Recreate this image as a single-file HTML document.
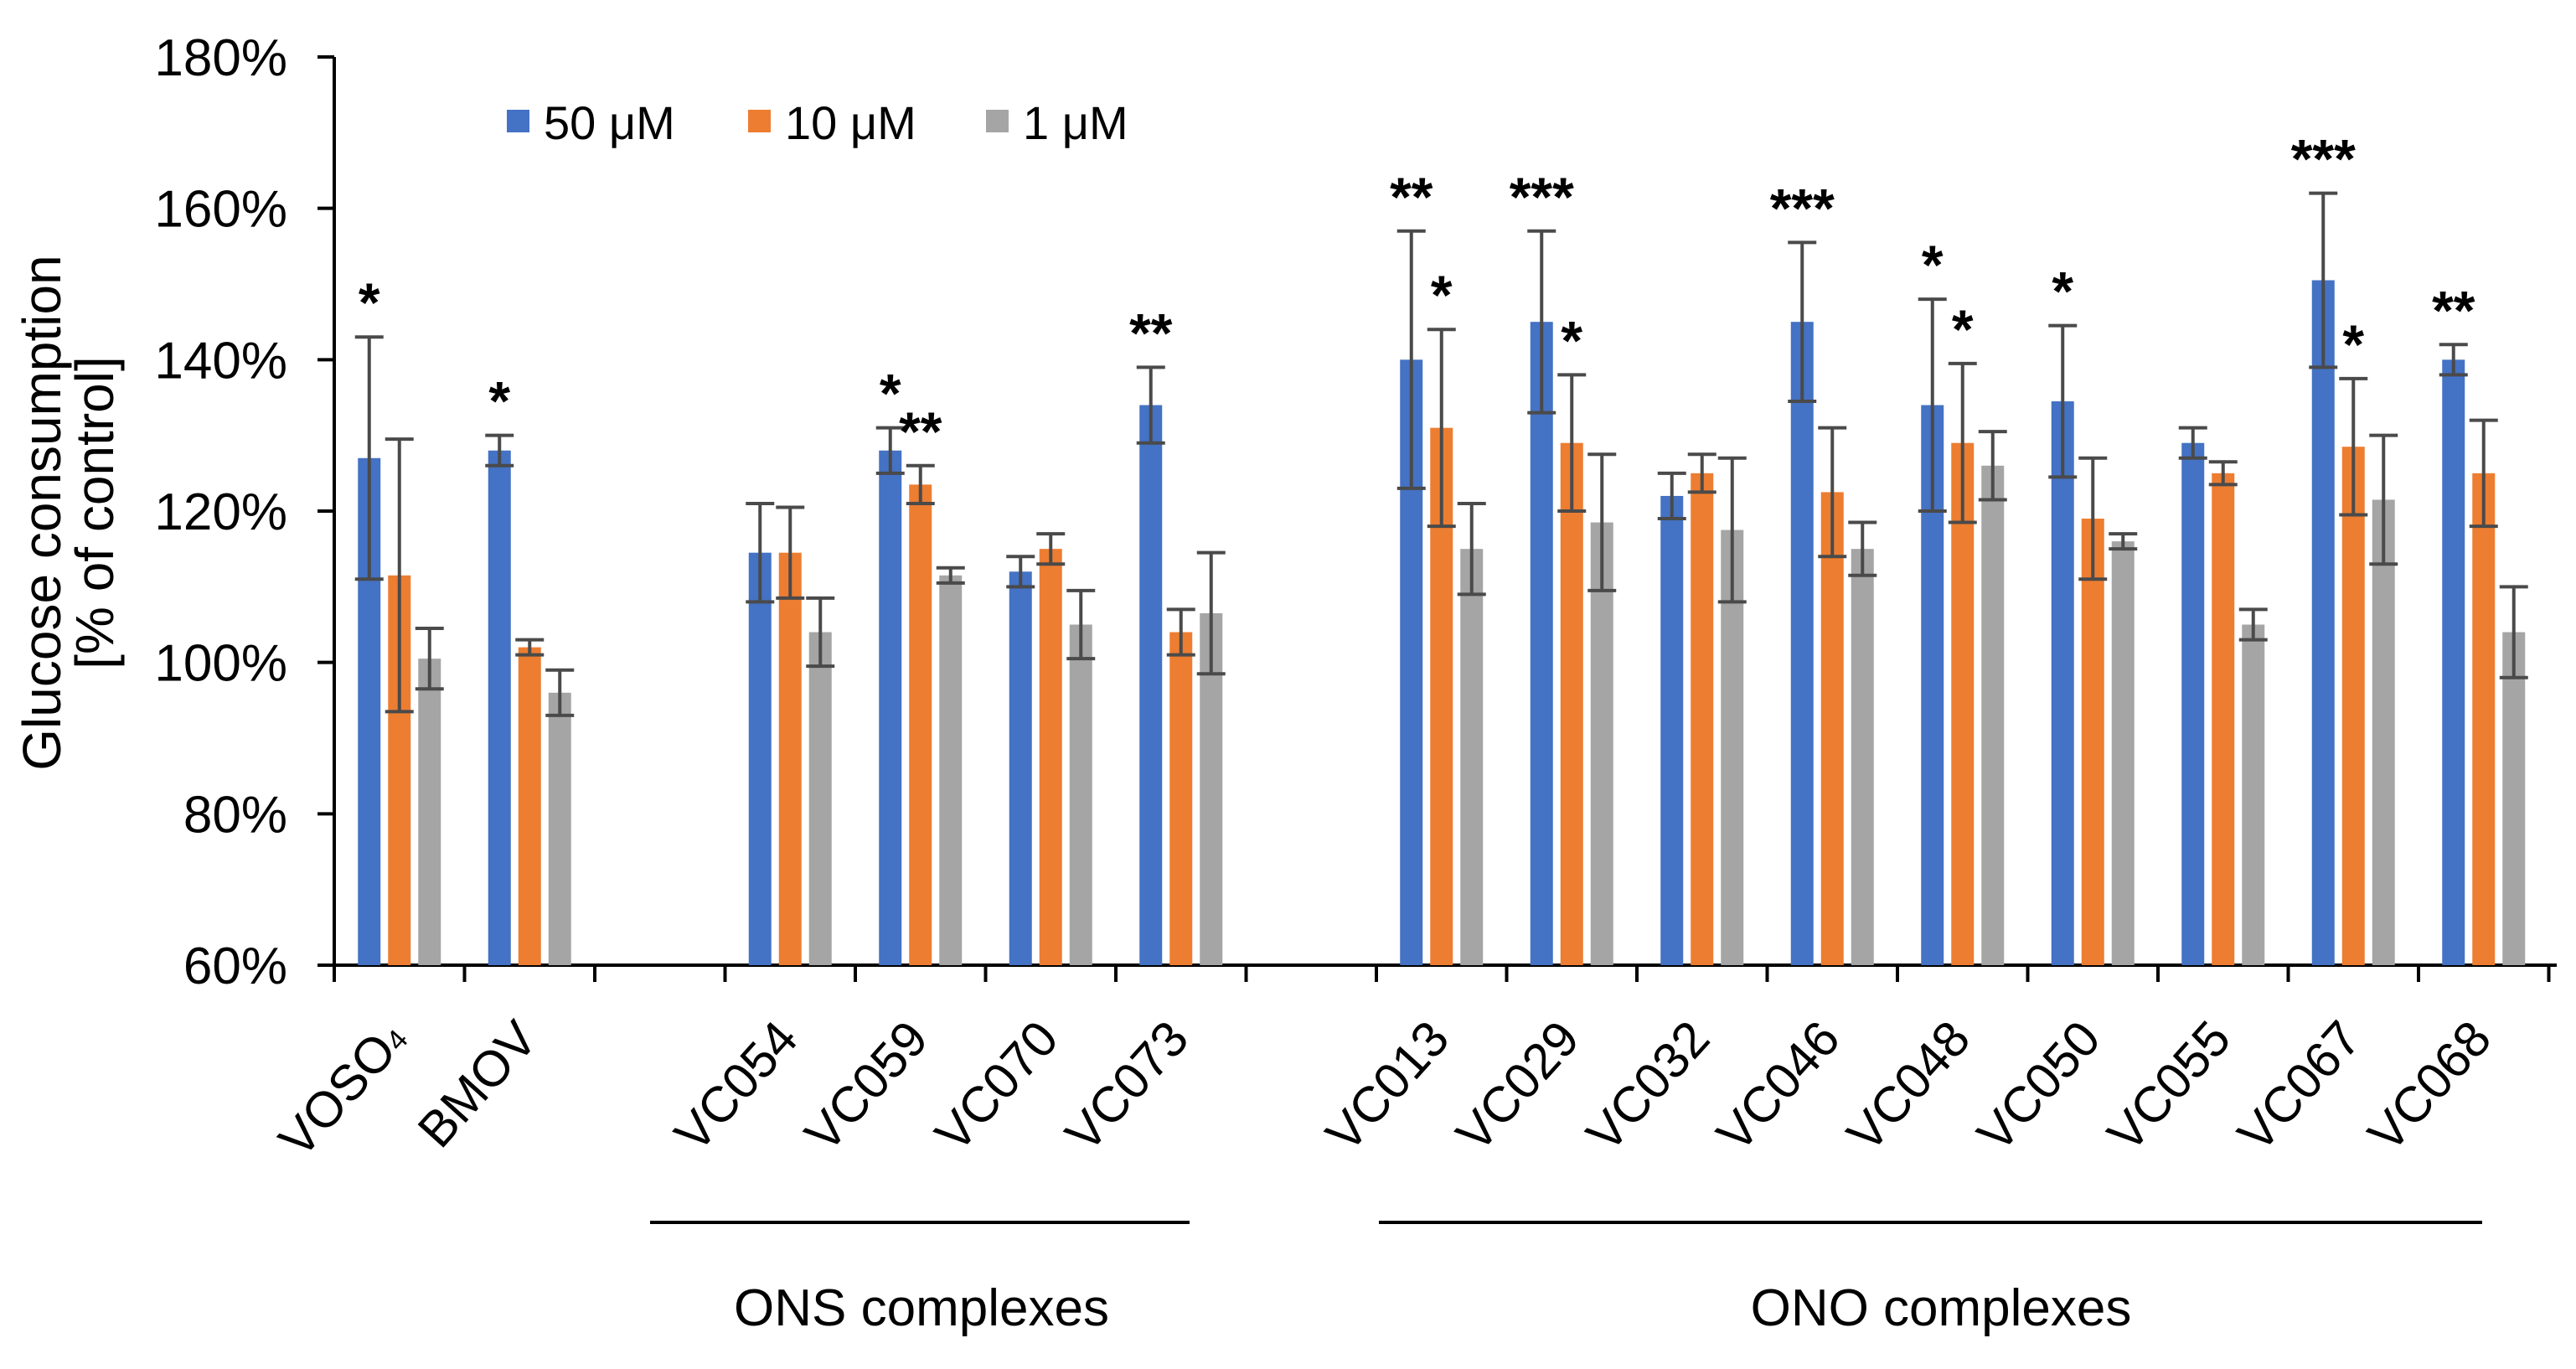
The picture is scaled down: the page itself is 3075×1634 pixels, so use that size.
<!DOCTYPE html>
<html><head><meta charset="utf-8"><style>
html,body{margin:0;padding:0;background:#fff}
svg{display:block}
text{font-family:"Liberation Sans",Arial,sans-serif;fill:#000}
</style></head><body>
<svg id="chart" width="3075" height="1634" viewBox="0 0 3075 1634" xmlns="http://www.w3.org/2000/svg">
<g id="axes"></g>
<g id="bars"></g>
<g id="labels"></g>
<g id="legend"></g>
<text font-size="64" text-anchor="middle" transform="translate(72,612) rotate(-90)">Glucose consumption</text>
<text font-size="64" text-anchor="middle" transform="translate(135,612) rotate(-90)">[% of control]</text>
<line x1="776" y1="1459" x2="1420" y2="1459" stroke="#000" stroke-width="4"/>
<line x1="1646" y1="1459" x2="2963" y2="1459" stroke="#000" stroke-width="4"/>
<text font-size="62" text-anchor="middle" x="1100" y="1582">ONS complexes</text>
<text font-size="62" text-anchor="middle" x="2317" y="1582">ONO complexes</text>
</svg>
<script>
const categories = ["VOSO4","BMOV","","VC054","VC059","VC070","VC073","","VC013","VC029","VC032","VC046","VC048","VC050","VC055","VC067","VC068"];
const seriesNames = ["50 μM","10 μM","1 μM"];
const s50 = [127,128,null,114.5,128,112,134,null,140,145,122,145,134,134.5,129,150.5,140];
const s10 = [111.5,102,null,114.5,123.5,115,104,null,131,129,125,122.5,129,119,125,128.5,125];
const s1  = [100.5,96,null,104,111.5,105,106.5,null,115,118.5,117.5,115,126,116,105,121.5,104];
const e50 = [16,2,null,6.5,3,2,5,null,17,12,3,10.5,14,10,2,11.5,2];
const e10 = [18,1,null,6,2.5,2,3,null,13,9,2.5,8.5,10.5,8,1.5,9,7];
const e1  = [4,3,null,4.5,1,4.5,8,null,6,9,9.5,3.5,4.5,1,2,8.5,6];
const yTicks = [60,80,100,120,140,160,180];
const starCats = [0,1,4,4,6,8,8,9,9,11,12,12,13,15,15,16];
const starSeries = [0,0,0,1,0,0,1,0,1,0,0,1,0,0,1,0];
const starText = ["*","*","*","**","**","**","*","***","*","***","*","*","*","***","*","**"];

const NS="http://www.w3.org/2000/svg";
const X0=399, SLOT=155.5, Y60=1152, Y180=68;
const colors=["#4472C4","#ED7D31","#A5A5A5"];
const offs=[-36,0,36], BW=27;
const vals=[s50,s10,s1], errs=[e50,e10,e1];
function y(v){return Y60-(v-60)*(Y60-Y180)/120;}
function cx(i){return X0+(i+0.5)*SLOT;}
function mk(tag,attrs,parent){const e=document.createElementNS(NS,tag);for(const k in attrs)e.setAttribute(k,attrs[k]);parent.appendChild(e);return e;}
const axes=document.getElementById('axes');
let l=mk('line',{x1:X0,y1:Y180,x2:X0,y2:Y60,stroke:'#000','stroke-width':4},axes);


l=mk('line',{x1:X0,y1:Y60,x2:3052,y2:Y60,stroke:'#000','stroke-width':4},axes);


yTicks.forEach(t=>{
  const tk=mk('line',{x1:X0-20,y1:y(t),x2:X0,y2:y(t),stroke:'#000','stroke-width':4},axes);
  
  
  const tx=mk('text',{x:343,y:y(t)+22,'font-size':62,'text-anchor':'end'},axes);
  tx.textContent=t+'%';
  
  
});
for(let i=0;i<=categories.length;i++){
  const tk=mk('line',{x1:X0+i*SLOT,y1:Y60,x2:X0+i*SLOT,y2:Y60+20,stroke:'#000','stroke-width':4},axes);
  
  
}
const bars=document.getElementById('bars');
categories.forEach((c,i)=>{
  for(let s=0;s<3;s++){
    const v=vals[s][i]; if(v==null) continue;
    const bx=cx(i)+offs[s];
    const r=mk('rect',{x:bx-BW/2,y:y(v),width:BW,height:Y60-y(v),fill:colors[s]},bars);
    
    
    const e=errs[s][i];
    const g=mk('path',{d:`M${bx},${y(v+e)}V${y(v-e)}M${bx-17},${y(v+e)}H${bx+17}M${bx-17},${y(v-e)}H${bx+17}`,stroke:'#4a4a4a','stroke-width':4,fill:'none'},bars);
    
    
  }
});
starCats.forEach((ci,k)=>{
  const s=starSeries[k];
  const top=y(vals[s][ci]+errs[s][ci]);
  const t=mk('text',{x:cx(ci)+offs[s],y:top-18,'font-size':66,'font-weight':'bold','text-anchor':'middle'},bars);
  t.textContent=starText[k];
  
  
});
const labels=document.getElementById('labels');
categories.forEach((c,i)=>{
  if(!c) return;
  const t=mk('text',{'font-size':60,'text-anchor':'end',transform:`translate(${cx(i)+12},1242) rotate(-48)`},labels);
  if(c==='VOSO4'){t.textContent='VOSO';const sb=mk('tspan',{'font-size':34,dy:0},t);sb.textContent='4';}
  else t.textContent=c;
  
  
});
const legend=document.getElementById('legend');
const lx=[605,893,1177];
seriesNames.forEach((n,s)=>{
  const r=mk('rect',{x:lx[s],y:131,width:27,height:27,fill:colors[s]},legend);
  
  
  const t=mk('text',{x:lx[s]+44,y:166,'font-size':56},legend);
  t.textContent=n;
  
  
});
</script>
</body></html>
